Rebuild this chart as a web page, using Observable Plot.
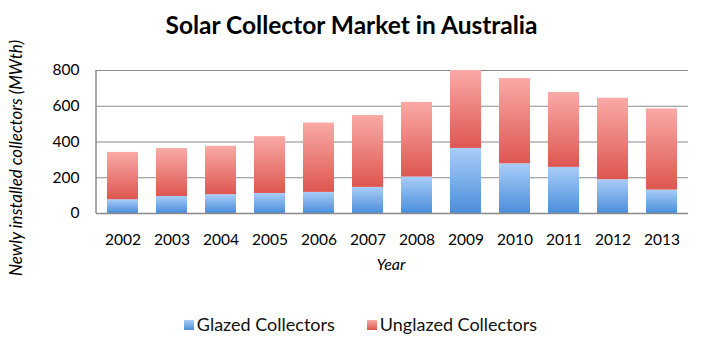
<!DOCTYPE html>
<html><head><meta charset="utf-8">
<script src="https://cdn.jsdelivr.net/npm/d3@7"></script>
<script src="https://cdn.jsdelivr.net/npm/@observablehq/plot@0.6"></script>
<style>
body{margin:0;background:#fff;font-family:Lato,"Open Sans",sans-serif;}
#title{height:40px;line-height:50px;text-align:center;font-size:24.5px;font-weight:bold;color:#000;}
#legend{display:flex;justify-content:center;gap:32px;font-size:18px;color:#111;margin-top:13px;padding-left:18px;}
#legend span.sw{display:inline-block;width:10px;height:10px;margin-right:3px;vertical-align:1px;}
</style></head>
<body>
<div id="title">Solar Collector Market in Australia</div>
<div id="chart"></div>
<div id="legend"></div>
<script>
const years = ["2002","2003","2004","2005","2006","2007","2008","2009","2010","2011","2012","2013"];
const glazed =   [77, 95, 105, 112, 118, 146, 204, 364, 278, 258, 189, 131];
const unglazed = [265, 268, 271, 318, 388, 402, 418, 436, 477, 419, 456, 454];
const seriesNames = ["Glazed Collectors", "Unglazed Collectors"];
const yTicks = [0, 200, 400, 600, 800];

const data = [];
years.forEach((y, i) => {
  data.push({year: y, series: seriesNames[0], value: glazed[i]});
  data.push({year: y, series: seriesNames[1], value: unglazed[i]});
});

const plot = Plot.plot({
  width: 703,
  height: 260,
  marginTop: 30,
  marginBottom: 87,
  marginLeft: 96,
  marginRight: 15,
  style: {fontFamily: "Lato, 'Open Sans', sans-serif", fontSize: "15.5px", color: "#000", background: "#fff"},
  x: {domain: years, paddingInner: 0.37, paddingOuter: 0.185, label: null},
  y: {domain: [0, 800], label: null},
  color: {domain: seriesNames, range: ["url(#gBlue)", "url(#gRed)"]},
  marks: [
    Plot.gridY(yTicks, {stroke: "#8a8a8a", strokeOpacity: 1, strokeWidth: 1.2}),
    Plot.barY(data, {x: "year", y: "value", fill: "series", order: seriesNames}),
    Plot.ruleY([0], {stroke: "#8a8a8a", strokeWidth: 1.5}),
    Plot.axisY({ticks: yTicks, tickSize: 0, tickPadding: 17, fontSize: 15.5, label: null}),
    Plot.axisX({tickSize: 0, tickPadding: 20, fontSize: 15.5, label: null})
  ]
});
const svg = d3.select(plot);
const defs = svg.insert("defs", ":first-child");
function grad(id, top, bottom) {
  const g = defs.append("linearGradient").attr("id", id).attr("x1", 0).attr("y1", 0).attr("x2", 0).attr("y2", 1);
  g.append("stop").attr("offset", "0%").attr("stop-color", top);
  g.append("stop").attr("offset", "100%").attr("stop-color", bottom);
}
grad("gBlue", "#a9cdf8", "#4b8edb");
grad("gRed", "#f9aaa6", "#de5650");
// left axis line
svg.append("line").attr("x1", 96).attr("x2", 96).attr("y1", 30).attr("y2", 173).attr("stroke", "#8a8a8a").attr("stroke-width", 1.5);
svg.append("text").attr("transform", "translate(22,118) rotate(-90)").attr("text-anchor", "middle")
  .style("font-style", "italic").style("font-size", "17px").text("Newly installed collectors (MWth)");
svg.append("text").attr("x", 391).attr("y", 230).attr("text-anchor", "middle")
  .style("font-style", "italic").style("font-size", "16px").text("Year");
document.getElementById("chart").appendChild(plot);

const legend = d3.select("#legend");
const swatches = ["linear-gradient(#a9cdf8,#4b8edb)", "linear-gradient(#f9aaa6,#de5650)"];
seriesNames.forEach((s, i) => {
  const it = legend.append("div");
  it.append("span").attr("class", "sw").style("background", swatches[i]);
  it.append("span").text(s);
});
</script>
</body></html>
